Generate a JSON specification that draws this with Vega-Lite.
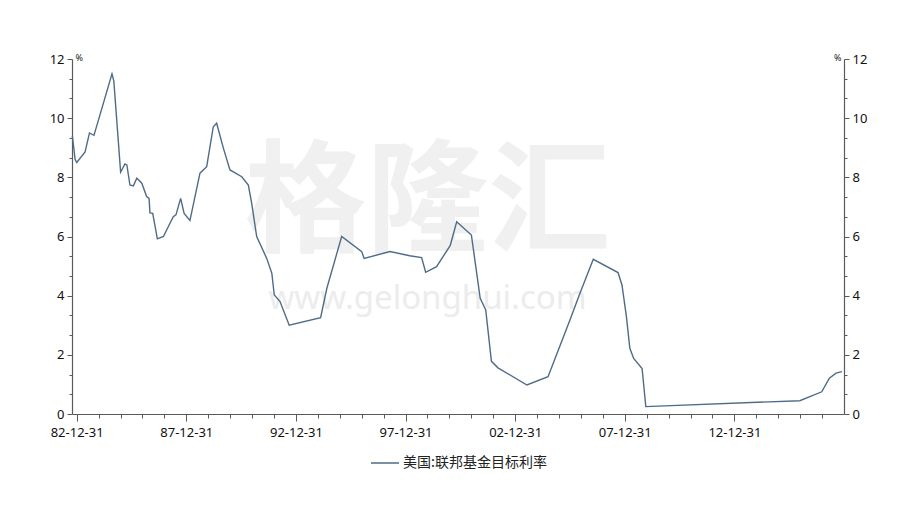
{
  "$schema": "https://vega.github.io/schema/vega-lite/v6.json",
  "width": 772,
  "height": 355,
  "autosize": "none",
  "padding": {"left": 72, "top": 59, "right": 72, "bottom": 91},
  "background": "white",
  "config": {"view": {"stroke": null}, "font": "Noto Sans CJK SC"},
  "datasets": {
    "rates": [
      {"date": "1982-10-20", "value": 9.4},
      {"date": "1982-12-05", "value": 8.6},
      {"date": "1983-01-01", "value": 8.5},
      {"date": "1983-05-20", "value": 8.86},
      {"date": "1983-08-01", "value": 9.5},
      {"date": "1983-10-15", "value": 9.42},
      {"date": "1984-08-10", "value": 11.5},
      {"date": "1984-09-10", "value": 11.25},
      {"date": "1985-01-01", "value": 8.18},
      {"date": "1985-03-15", "value": 8.45},
      {"date": "1985-04-15", "value": 8.42},
      {"date": "1985-06-05", "value": 7.74},
      {"date": "1985-08-01", "value": 7.71},
      {"date": "1985-09-28", "value": 7.97},
      {"date": "1985-12-20", "value": 7.8},
      {"date": "1986-03-10", "value": 7.35},
      {"date": "1986-04-20", "value": 7.29},
      {"date": "1986-05-05", "value": 6.8},
      {"date": "1986-06-20", "value": 6.78},
      {"date": "1986-09-05", "value": 5.92},
      {"date": "1986-12-15", "value": 6.0},
      {"date": "1987-05-28", "value": 6.67},
      {"date": "1987-07-12", "value": 6.73},
      {"date": "1987-09-28", "value": 7.29},
      {"date": "1987-11-25", "value": 6.78},
      {"date": "1988-03-01", "value": 6.54},
      {"date": "1988-08-15", "value": 8.14},
      {"date": "1988-12-05", "value": 8.36},
      {"date": "1989-03-25", "value": 9.71},
      {"date": "1989-05-20", "value": 9.83},
      {"date": "1989-09-10", "value": 8.98},
      {"date": "1989-12-28", "value": 8.25},
      {"date": "1990-07-12", "value": 8.02},
      {"date": "1990-10-30", "value": 7.74},
      {"date": "1990-12-25", "value": 7.12},
      {"date": "1991-03-18", "value": 6.0},
      {"date": "1991-09-01", "value": 5.26},
      {"date": "1991-11-25", "value": 4.76},
      {"date": "1992-01-05", "value": 4.02},
      {"date": "1992-04-10", "value": 3.8},
      {"date": "1992-09-10", "value": 3.0},
      {"date": "1994-02-15", "value": 3.26},
      {"date": "1994-05-30", "value": 4.25},
      {"date": "1995-02-01", "value": 6.0},
      {"date": "1996-01-01", "value": 5.49},
      {"date": "1996-02-10", "value": 5.26},
      {"date": "1997-04-15", "value": 5.49},
      {"date": "1998-03-10", "value": 5.35},
      {"date": "1998-09-25", "value": 5.29},
      {"date": "1998-12-01", "value": 4.79},
      {"date": "1999-06-01", "value": 4.98},
      {"date": "2000-01-15", "value": 5.7},
      {"date": "2000-05-01", "value": 6.5},
      {"date": "2001-01-01", "value": 6.05},
      {"date": "2001-05-28", "value": 3.91},
      {"date": "2001-08-28", "value": 3.52},
      {"date": "2001-12-01", "value": 1.78},
      {"date": "2002-03-20", "value": 1.56},
      {"date": "2003-07-15", "value": 0.98},
      {"date": "2004-07-01", "value": 1.26},
      {"date": "2004-12-20", "value": 2.16},
      {"date": "2005-07-01", "value": 3.18},
      {"date": "2005-12-15", "value": 4.08},
      {"date": "2006-07-25", "value": 5.23},
      {"date": "2007-09-10", "value": 4.78},
      {"date": "2007-11-15", "value": 4.36},
      {"date": "2008-01-28", "value": 3.29},
      {"date": "2008-03-25", "value": 2.22},
      {"date": "2008-05-28", "value": 1.88},
      {"date": "2008-10-15", "value": 1.54},
      {"date": "2008-12-16", "value": 0.25},
      {"date": "2015-12-25", "value": 0.45},
      {"date": "2016-12-25", "value": 0.75},
      {"date": "2017-05-01", "value": 1.21},
      {"date": "2017-08-20", "value": 1.38},
      {"date": "2017-11-25", "value": 1.43}
    ]
  },
  "layer": [
    {
      "data": {"values": [{"label": "格隆汇"}]},
      "mark": {"type": "text", "fontSize": 122, "color": "#f0f0f0", "font": "Noto Sans CJK SC", "fontWeight": "bold"},
      "encoding": {
        "text": {"field": "label"},
        "x": {"datum": {"year": 1999, "month": 1, "date": 1}, "type": "temporal"},
        "y": {"datum": 7.05, "type": "quantitative", "axis": null}
      }
    },
    {
      "data": {"values": [{"label": "www.gelonghui.com"}]},
      "mark": {"type": "text", "fontSize": 33, "color": "#ececec", "font": "Noto Sans", "fontWeight": "normal"},
      "encoding": {
        "text": {"field": "label"},
        "x": {"datum": {"year": 1999, "month": 1, "date": 1}, "type": "temporal"},
        "y": {"datum": 3.88, "type": "quantitative", "axis": null}
      }
    },
    {
      "data": {"name": "rates"},
      "mark": {"type": "line", "strokeWidth": 1.4},
      "encoding": {
        "x": {
          "field": "date", "type": "temporal", "title": null,
          "scale": {"domain": [{"year": 1982, "month": 10, "date": 14}, {"year": 2017, "month": 12, "date": 31}]},
          "axis": {
            "values": [
              {"year": 1982, "month": 12, "date": 31}, {"year": 1983, "month": 12, "date": 31}, {"year": 1984, "month": 12, "date": 31},
              {"year": 1985, "month": 12, "date": 31}, {"year": 1986, "month": 12, "date": 31}, {"year": 1987, "month": 12, "date": 31},
              {"year": 1988, "month": 12, "date": 31}, {"year": 1989, "month": 12, "date": 31}, {"year": 1990, "month": 12, "date": 31},
              {"year": 1991, "month": 12, "date": 31}, {"year": 1992, "month": 12, "date": 31}, {"year": 1993, "month": 12, "date": 31},
              {"year": 1994, "month": 12, "date": 31}, {"year": 1995, "month": 12, "date": 31}, {"year": 1996, "month": 12, "date": 31},
              {"year": 1997, "month": 12, "date": 31}, {"year": 1998, "month": 12, "date": 31}, {"year": 1999, "month": 12, "date": 31},
              {"year": 2000, "month": 12, "date": 31}, {"year": 2001, "month": 12, "date": 31}, {"year": 2002, "month": 12, "date": 31},
              {"year": 2003, "month": 12, "date": 31}, {"year": 2004, "month": 12, "date": 31}, {"year": 2005, "month": 12, "date": 31},
              {"year": 2006, "month": 12, "date": 31}, {"year": 2007, "month": 12, "date": 31}, {"year": 2008, "month": 12, "date": 31},
              {"year": 2009, "month": 12, "date": 31}, {"year": 2010, "month": 12, "date": 31}, {"year": 2011, "month": 12, "date": 31},
              {"year": 2012, "month": 12, "date": 31}, {"year": 2013, "month": 12, "date": 31}, {"year": 2014, "month": 12, "date": 31},
              {"year": 2015, "month": 12, "date": 31}, {"year": 2016, "month": 12, "date": 31}
            ],
            "tickCount": 60,
            "format": "%y-%m-%d",
            "labelExpr": "(year(datum.value) % 5 == 2) ? datum.label : ''",
            "tickSize": {"condition": {"test": "year(datum.value) % 5 == 2", "value": 7}, "value": 4},
            "labelOverlap": false,
            "labelFlush": false,
            "labelBound": false,
            "grid": false,
            "domainColor": "#5a5a5a",
            "tickColor": "#5a5a5a",
            "domainWidth": 1.2,
            "labelColor": "#111111",
            "labelFontSize": 13,
            "labelFont": "Noto Sans",
            "labelPadding": 5
          }
        },
        "y": {
          "field": "value", "type": "quantitative",
          "scale": {"domain": [0, 12], "nice": false},
          "axis": {
            "orient": "left",
            "values": [0, 0.6667, 1.3333, 2, 2.6667, 3.3333, 4, 4.6667, 5.3333, 6, 6.6667, 7.3333, 8, 8.6667, 9.3333, 10, 10.6667, 11.3333, 12],
            "tickCount": 40,
            "labelExpr": "(abs(datum.value - round(datum.value)) < 0.01 && round(datum.value) % 2 == 0) ? format(round(datum.value), 'd') : ''",
            "tickSize": {"condition": {"test": "abs(datum.value - round(datum.value)) < 0.01", "value": 5}, "value": 3},
            "labelOverlap": false,
            "labelFlush": false,
            "labelBound": false,
            "grid": false,
            "domainColor": "#5a5a5a",
            "tickColor": "#5a5a5a",
            "domainWidth": 1.2,
            "labelColor": "#111111",
            "labelFontSize": 13,
            "labelFont": "Noto Sans",
            "labelPadding": 3,
            "title": "%",
            "titleAngle": 0,
            "titleX": 3,
            "titleY": 1,
            "titleAlign": "left",
            "titleBaseline": "alphabetic",
            "titleFontSize": 9,
            "titleFontWeight": "normal",
            "titleColor": "#222222",
            "titleFont": "Noto Sans"
          }
        },
        "color": {
          "datum": "美国:联邦基金目标利率",
          "type": "nominal",
          "scale": {"range": ["#506b87"]},
          "legend": {
            "title": null,
            "orient": "none",
            "legendX": 298,
            "legendY": 389,
            "padding": 0,
            "symbolType": "stroke",
            "symbolSize": 784,
            "symbolStrokeWidth": 1.5,
            "labelFontSize": 14,
            "labelColor": "#222222",
            "labelFont": "Noto Sans CJK SC",
            "labelOffset": 3,
            "labelLimit": 400
          }
        }
      }
    },
    {
      "data": {"name": "rates"},
      "mark": {"type": "line", "strokeOpacity": 0},
      "encoding": {
        "x": {"field": "date", "type": "temporal", "title": null},
        "y": {
          "field": "value", "type": "quantitative",
          "axis": {
            "orient": "right",
            "values": [0, 0.6667, 1.3333, 2, 2.6667, 3.3333, 4, 4.6667, 5.3333, 6, 6.6667, 7.3333, 8, 8.6667, 9.3333, 10, 10.6667, 11.3333, 12],
            "tickCount": 40,
            "labelExpr": "(abs(datum.value - round(datum.value)) < 0.01 && round(datum.value) % 2 == 0) ? format(round(datum.value), 'd') : ''",
            "tickSize": {"condition": {"test": "abs(datum.value - round(datum.value)) < 0.01", "value": 5}, "value": 3},
            "labelOverlap": false,
            "labelFlush": false,
            "labelBound": false,
            "grid": false,
            "domainColor": "#5a5a5a",
            "tickColor": "#5a5a5a",
            "domainWidth": 1.2,
            "labelColor": "#111111",
            "labelFontSize": 13,
            "labelFont": "Noto Sans",
            "labelPadding": 3,
            "title": "%",
            "titleAngle": 0,
            "titleX": -3,
            "titleY": 1,
            "titleAlign": "right",
            "titleBaseline": "alphabetic",
            "titleFontSize": 9,
            "titleFontWeight": "normal",
            "titleColor": "#222222",
            "titleFont": "Noto Sans"
          }
        }
      }
    }
  ],
  "resolve": {"axis": {"y": "independent"}}
}
